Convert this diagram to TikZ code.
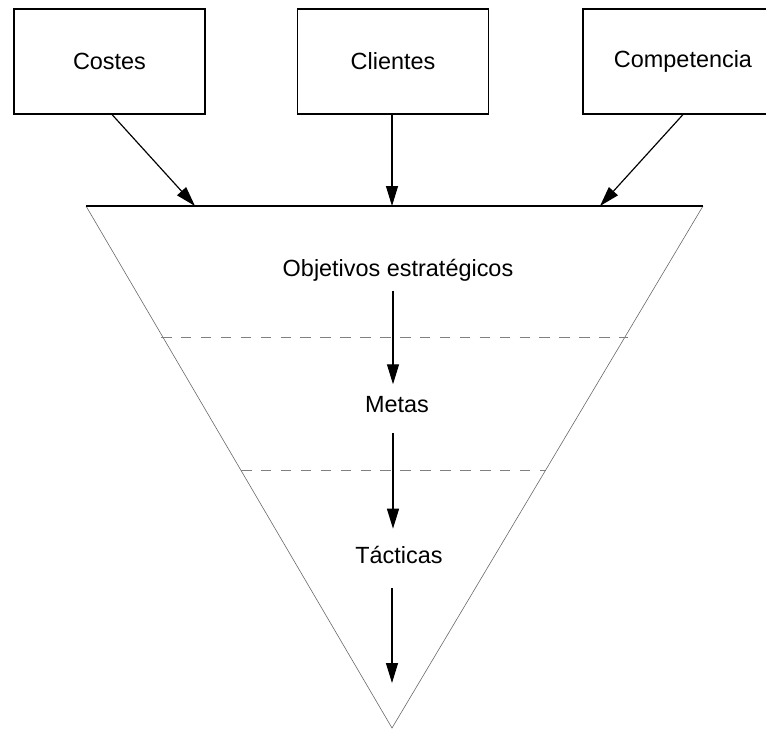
\documentclass[tikz,border=0pt]{standalone}
\usepackage{fontspec}
\setmainfont{Liberation Sans}
\usetikzlibrary{arrows.meta}

\begin{document}
\begin{tikzpicture}[x=0.03cm, y=-0.03cm,
            box/.style={draw, line width=0.9pt, minimum width=5.73cm,
                    minimum height=3.15cm, inner sep=0pt, font=\fontsize{20}{24}\selectfont},
            label/.style={font=\fontsize{20}{24}\selectfont, inner sep=2pt},
            arrow/.style={-{Triangle[length=0.6cm, width=0.36cm]}, line width=1pt},
            level/.style={dashed, dash pattern=on 9pt off 8pt, gray, line width=0.6pt}
        ]
        \useasboundingbox (0,0) rectangle (766,730);

        \node[box] (costes) at (109.5,61.5) {Costes};
        \node[box] (clientes) at (393,61.5) {Clientes};
        \node[box, minimum width=6cm] (comp) at (683,61.5) {Competencia};

        % inverted triangle
        \coordinate (tl) at (86,206);
        \coordinate (tr) at (703,206);
        \coordinate (apex) at (392,728);
        \draw[line width=0.5pt, gray!80!black] (tl) -- (apex) -- (tr);
        \draw[line width=1pt] (tl) -- (tr);

        \coordinate (in1) at (195,206);
        \coordinate (in2) at (392,206);
        \coordinate (in3) at (600,206);

        \draw[arrow] (costes.south -| 112,0) -- (in1);
        \draw[arrow] (clientes.south -| 392,0) -- (in2);
        \draw[arrow] (comp.south -| 683,0) -- (in3);

        \draw[level] (161,337) -- (628,337);
        \draw[level] (241,470) -- (545,470);

        \node[label] (obj) at (398,270) {Objetivos estratégicos};
        \node[label] (metas) at (397,405) {Metas};
        \node[label] (tact) at (399,555) {Tácticas};
        \coordinate (end) at (392,683);

        \draw[arrow, shorten >=0.3cm] (obj.south -| 393,0) ++(0,7) -- (metas.north -| 393,0);
        \draw[arrow, shorten >=0.45cm] (metas.south -| 393,0) ++(0,17) -- (tact.north -| 393,0);
        \draw[arrow] (tact.south -| 392,0) ++(0,22) -- (end);
    \end{tikzpicture}
\end{document}
